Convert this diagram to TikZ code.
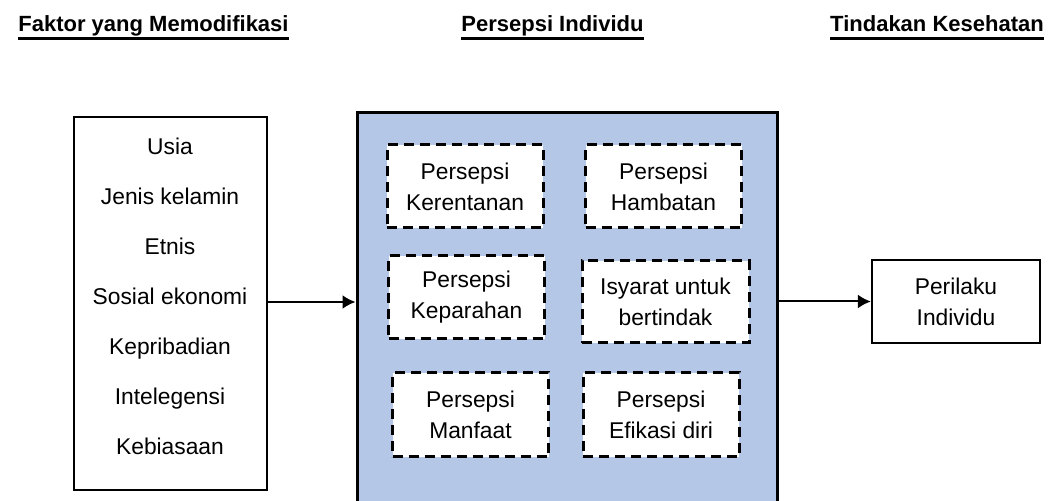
\documentclass[tikz,border=0pt]{standalone}
\usepackage{fontspec}
\setmainfont{Liberation Sans}
\usepackage{tikz}
\usetikzlibrary{arrows.meta,positioning}
\definecolor{biru}{RGB}{180,199,231}
\newcommand{\judul}[1]{\setbox0\hbox{\bfseries #1}\usebox0\llap{\rule[-4pt]{\wd0}{1.5pt}}}

\begin{document}
\begin{tikzpicture}[x=0.5pt, y=-0.5pt, font=\fontsize{11.4}{15.5}\selectfont,
  kotak/.style={draw, line width=1pt, fill=white, inner sep=0pt},
  putus/.style={draw, line width=1.5pt, dash pattern=on 5pt off 3pt, fill=white, align=center, minimum width=78pt, minimum height=41.5pt, inner sep=0pt},
  judulnode/.style={inner sep=0pt, anchor=base, font=\fontsize{11}{13}\selectfont}]
\useasboundingbox (0,0) rectangle (1051,501);
\tikzstyle{panah}=[-{Latex[length=6.5pt,width=7pt]}, line width=1pt]
% judul kolom
\node[judulnode] (j1) at (153.5,32) {\judul{Faktor yang Memodifikasi}};
\node[judulnode] (j2) at (552.5,32) {\judul{Persepsi Individu}};
\node[judulnode] (j3) at (937,32) {\judul{Tindakan Kesehatan}};
% faktor
\node[kotak, minimum width=96.5pt, minimum height=186.5pt] (faktor) at (170.5,303.5) {};
\node[align=center, font=\fontsize{11.4}{25}\selectfont] (daftar) at (170,296) {Usia\\Jenis kelamin\\Etnis\\Sosial ekonomi\\Kepribadian\\Intelegensi\\Kebiasaan};
% persepsi
\node[draw, line width=1.5pt, fill=biru, minimum width=210pt, minimum height=196.5pt, inner sep=0pt] (persepsi) at (567,309.5) {};
\node[putus] (kerentanan) at (465,186.5) {Persepsi\\Kerentanan};
\node[putus] (hambatan) at (663.5,186.5) {Persepsi\\Hambatan};
\node[putus] (keparahan) at (466.5,297.5) {Persepsi\\Keparahan};
\node[putus, minimum width=83.5pt, minimum height=41pt] (isyarat) at (665.5,302) {Isyarat untuk\\bertindak};
\node[putus, minimum height=42pt] (manfaat) at (470.5,415) {Persepsi\\Manfaat};
\node[putus, minimum height=42pt] (efikasi) at (661,415) {Persepsi\\Efikasi diri};
% tindakan
\node[kotak, line width=1.2pt, align=center, minimum width=84pt, minimum height=41.5pt] (perilaku) at (956,301.5) {Perilaku\\Individu};
\draw[panah] (faktor.east |- 0,302) -- (persepsi.west |- 0,302);
\draw[panah] (persepsi.east |- perilaku) -- (perilaku);
\end{tikzpicture}
\end{document}
